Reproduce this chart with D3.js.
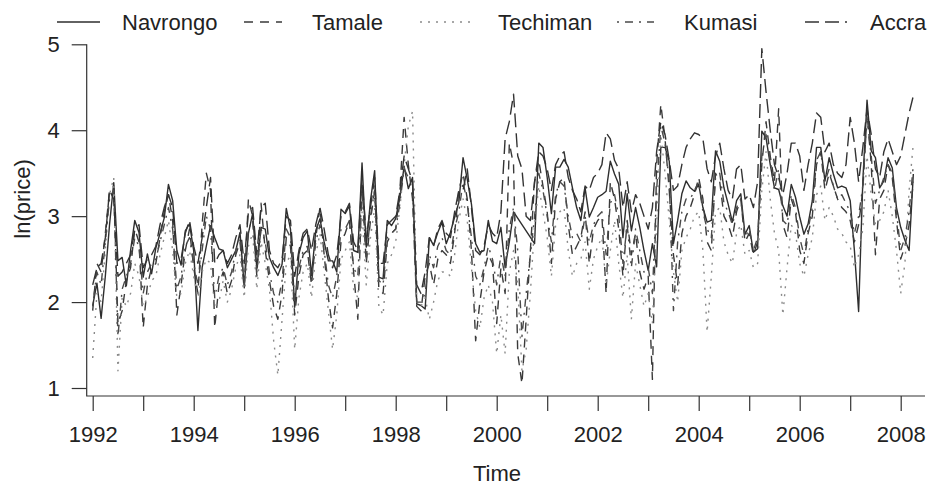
<!DOCTYPE html>
<html>
<head>
<meta charset="utf-8">
<script src="https://cdn.jsdelivr.net/npm/d3@7/dist/d3.min.js"></script>
<style>
  body { margin: 0; background: #fff; }
  svg text { font-family: "Liberation Sans", Arial, Helvetica, sans-serif; fill: #222; }
</style>
</head>
<body>
<svg width="933" height="486"></svg>
<script>
// monthly ln(price) series, Jan 1992 .. Apr 2008 (null = missing month)
var startYear = 1992;
var seriesNames = ["Navrongo", "Tamale", "Techiman", "Kumasi", "Accra"];

var navrongo = [
  1.96, 2.22, 1.81, 2.30, 2.90, 3.39, 2.48, 2.52, 2.19, 2.60, 2.95, 2.81,
  2.29, 2.56, 2.33, 2.63, 2.80, 2.98, 3.37, 3.18, 2.60, 2.43, 2.83, 2.91,
  2.60, 1.67, 2.40, 2.65, 2.89, 2.75, 2.62, 2.60, 2.40, 2.50, 2.60, 2.81,
  2.19, 2.80, 3.03, 2.39, 2.87, 2.85, 2.52, 2.40, 2.31, 2.44, 3.09, 2.85,
  1.94, 2.56, 2.75, 2.83, 2.31, 2.83, 2.97, 2.70, 2.48, 2.48, 2.35, 3.08,
  3.03, 3.12, 2.60, 2.58, 3.62, 2.64, 3.18, 3.53, 2.29, 2.27, 2.95, 2.89,
  2.97, 3.22, 3.58, 3.32, 3.45, 1.98, 1.96, 1.92, 2.75, 2.66, 2.81, 2.93,
  2.68, 2.81, 2.99, 3.16, 3.68, 3.43, 3.14, 2.68, 2.58, 2.60, 2.95, 2.71,
  2.68, 2.87, 2.40, 2.70, 3.05, null, null, null, null, 2.68, 3.85, 3.80,
  3.45, 3.03, 3.57, 3.57, 3.66, 3.57, 3.33, 3.10, 2.95, 3.33, 2.99, 3.10,
  3.22, 3.25, 3.29, 3.64, 3.49, 3.37, 2.75, 3.26, 2.83, 3.10, 2.87, 2.60,
  2.37, 2.68, 2.41, 3.80, 3.80, 3.64, 2.68, 2.95, 3.26, 3.41, 3.33, 3.29,
  3.37, 3.10, 2.93, 2.95, 3.76, 3.64, 3.33, 3.14, 2.93, 3.18, 3.26, 2.79,
  2.89, 2.58, 2.62, 3.99, 3.91, 3.60, 3.33, 3.31, 3.12, 3.00, 3.37, 3.22,
  2.99, 2.79, 2.91, 3.18, 3.80, 3.80, 3.41, 3.68, 3.49, 3.33, 3.35, 3.33,
  3.18, 2.60, 1.89, 3.41, 4.35, 3.76, 3.68, 3.33, 3.41, 3.68, 3.56, 3.10,
  2.87, 2.72, 2.60, 3.49
];

var tamale = [
  1.90, 2.45, 2.35, 2.80, 3.30, 3.35, 1.75, 1.90, 2.25, 2.40, 2.85, 2.70,
  1.70, 2.20, 2.40, 2.45, 2.75, 3.05, 3.25, 2.95, 1.85, 2.20, 2.60, 2.85,
  2.40, 2.10, 2.90, 3.50, 3.30, 1.70, 2.20, 2.35, 2.10, 2.25, 2.55, 2.70,
  2.15, 3.20, 3.00, 2.30, 3.15, 2.60, 2.25, 1.95, 1.80, 2.10, 2.75, 2.65,
  1.85, 2.30, 2.55, 2.60, 2.20, 2.75, 3.10, 2.55, 2.05, 1.70, 2.10, 2.70,
  2.80, 2.95, 2.35, 1.80, 3.40, 2.45, 2.95, 3.30, 2.15, 2.10, 2.70, 2.80,
  2.85, 3.30, 4.15, 3.60, 3.20, 1.95, 1.90, 2.30, 2.45, 2.20, 2.50, 2.60,
  2.55, 2.45, 2.80, 3.30, 3.50, 3.20, 2.60, 1.55, 2.00, 2.35, 2.55, 2.45,
  1.75, 2.40, 2.10, 3.85, 3.60, 1.40, 1.05, 1.80, 2.60, 3.40, 3.65, 3.35,
  3.05, 2.45, 3.20, 3.40, 3.45, 2.90, 2.55, 2.65, 2.75, 3.05, 2.45, 2.85,
  2.95, 3.00, 2.10, 3.40, 3.20, 2.85, 2.30, 2.95, 2.55, 2.80, 2.35, 2.15,
  2.30, 1.10, 3.60, 4.30, 3.90, 3.30, 2.55, 2.20, 2.80, 3.00, 3.10, 3.25,
  3.45, 3.20, 2.70, 2.60, 3.50, 3.40, 3.00, 2.90, 2.75, 3.05, 3.20, 2.70,
  2.80, 2.55, 2.70, 3.60, 4.10, 3.70, 3.40, 4.25, 2.90, 2.75, 3.20, 3.05,
  2.60, 2.45, 2.80, 3.00, 3.60, 3.75, 3.30, 3.50, 3.35, 3.20, 3.10, 3.05,
  2.95, 2.70, 2.90, 3.30, 4.20, 3.60, 2.55, 3.20, 3.30, 3.60, 3.45, 2.95,
  2.50, 2.65, 2.90, 3.40
];

var techiman = [
  1.35, 2.10, 2.00, 2.60, 3.25, 3.45, 1.20, 2.05, 1.95, 2.10, 2.45, 2.30,
  1.95, 2.05, 2.25, 2.30, 2.55, 2.75, 2.95, 2.60, 2.05, 2.10, 2.45, 2.60,
  2.30, 2.05, 2.35, 2.50, 2.45, 1.95, 2.00, 2.25, 2.00, 2.15, 2.40, 2.55,
  2.05, 2.65, 2.80, 2.15, 2.70, 2.45, 2.15, 1.55, 1.15, 1.80, 2.45, 2.55,
  1.45, 2.05, 2.35, 2.45, 2.05, 2.55, 2.80, 2.35, 1.90, 1.45, 1.85, 2.50,
  2.60, 2.70, 2.15, 2.05, 3.05, 2.20, 2.75, 3.10, 1.95, 1.85, 2.45, 2.55,
  2.70, 3.10, 3.60, 4.05, 4.22, 2.00, 1.95, 2.05, 1.80, 2.00, 2.25, 2.35,
  2.35, 2.30, 2.55, 2.95, 3.20, 2.95, 2.40, 1.90, 1.70, 2.05, 2.20, 2.00,
  1.40, 1.85, 1.40, 2.35, 2.60, 2.20, 1.20, 1.45, 2.10, 2.90, 3.35, 3.05,
  2.75, 2.30, 2.90, 3.05, 3.10, 2.60, 2.30, 2.45, 2.50, 2.70, 2.15, 2.50,
  2.65, 2.75, 2.20, 2.60, 2.95, 2.45, 2.05, 2.55, 1.80, 2.45, 2.20, 1.95,
  2.10, 1.75, 2.90, 3.95, 3.50, 2.95, 2.35, 2.00, 2.60, 2.75, 2.85, 3.00,
  3.05, 2.60, 1.65, 2.30, 3.05, 3.10, 2.70, 2.55, 2.45, 2.80, 2.90, 2.55,
  2.60, 2.40, 2.45, 3.30, 3.75, 3.20, 2.80, 2.60, 1.85, 2.40, 2.90, 2.80,
  2.45, 2.30, 2.55, 2.75, 3.25, 3.35, 2.95, 3.10, 3.00, 2.85, 2.80, 2.70,
  2.65, 2.40, 2.55, 2.85, 3.70, 3.25, 2.90, 2.95, 3.05, 3.30, 3.00, 2.60,
  2.10, 2.45, 3.30, 3.85
];

var kumasi = [
  1.95, 2.35, 2.20, 2.70, 3.20, 3.30, 1.60, 2.15, 2.30, 2.45, 2.75, 2.65,
  2.10, 2.35, 2.45, 2.50, 2.70, 2.90, 3.10, 2.85, 2.15, 2.30, 2.65, 2.75,
  2.45, 2.20, 2.60, 3.00, 2.85, 2.05, 2.30, 2.40, 2.20, 2.35, 2.60, 2.75,
  2.20, 2.85, 2.95, 2.35, 2.85, 2.70, 2.35, 2.10, 2.00, 2.25, 2.85, 2.75,
  2.00, 2.40, 2.60, 2.65, 2.25, 2.70, 2.90, 2.60, 2.20, 2.05, 2.30, 2.85,
  2.85, 2.95, 2.40, 2.30, 3.30, 2.50, 3.00, 3.30, 2.25, 2.20, 2.75, 2.80,
  2.85, 3.15, 3.55, 3.45, 3.40, 2.00, 2.00, 2.10, 2.55, 2.40, 2.65, 2.75,
  2.60, 2.55, 2.85, 3.05, 3.40, 3.15, 2.75, 2.30, 2.20, 2.40, 2.65, 2.50,
  2.20, 2.55, 2.30, 2.85, 3.10, 2.60, 1.60, 2.10, 2.55, 3.00, 3.50, 3.30,
  3.00, 2.70, 3.25, 3.40, 3.35, 3.00, 2.75, 2.80, 2.70, 3.00, 2.70, 2.90,
  3.00, 3.05, 2.55, 3.15, 3.25, 3.00, 2.45, 2.90, 2.40, 2.85, 2.60, 2.35,
  2.40, 2.10, 3.30, 4.05, 3.85, 3.40, 1.90, 2.70, 3.05, 3.20, 3.20, 3.30,
  3.40, 3.05, 2.85, 2.75, 3.45, 3.50, 3.15, 3.05, 2.90, 3.10, 3.20, 2.75,
  2.85, 2.60, 2.75, 3.70, 3.95, 3.65, 3.30, 3.55, 2.95, 2.90, 3.25, 3.10,
  2.75, 2.55, 2.85, 3.10, 3.65, 3.75, 3.40, 3.55, 3.35, 3.20, 3.25, 3.15,
  3.05, 2.80, 3.00, 3.35, 4.15, 3.70, 3.15, 3.30, 3.45, 3.60, 3.50, 3.05,
  2.60, 2.75, 3.05, 3.60
];

var accra = [
  2.20, 2.40, 2.45, 2.75, 3.30, 3.20, 2.30, 2.35, 2.45, 2.55, 2.85, 2.90,
  2.40, 2.50, 2.55, 2.65, 2.90, 3.10, 3.25, 3.10, 2.45, 2.50, 2.80, 2.95,
  2.65, 2.45, 2.75, 3.10, 3.45, 2.45, 2.55, 2.60, 2.45, 2.55, 2.75, 2.90,
  2.45, 3.05, 3.10, 2.55, 3.10, 3.15, 2.60, 2.45, 2.40, 2.50, 3.00, 2.95,
  2.30, 2.60, 2.80, 2.85, 2.60, 2.90, 3.10, 2.85, 2.55, 2.40, 2.55, 3.00,
  3.05, 3.15, 2.70, 2.60, 3.45, 2.75, 3.10, 3.45, 2.45, 2.45, 2.90, 2.95,
  3.00, 3.30, 3.70, 3.55, 3.40, 2.20, 2.10, 2.35, 2.75, 2.65, 2.85, 2.95,
  2.80, 2.75, 3.05, 3.30, 3.30, 3.55, 3.10, 2.60, 2.55, 2.65, 2.90, 2.80,
  2.75, 3.05, 3.90, 4.10, 4.42, 3.70, 3.55, 3.00, 2.95, 3.40, 3.75, 3.70,
  3.55, 3.30, 3.60, 3.70, 3.75, 3.45, 3.30, 3.20, 3.05, 3.35, 3.30, 3.45,
  3.50, 3.60, 3.97, 3.90, 3.65, 3.55, 3.10, 3.40, 3.05, 3.25, 3.15, 3.00,
  2.85, 3.10, 3.75, 4.10, 3.95, 3.65, 3.30, 3.35, 3.60, 3.80, 3.90, 3.97,
  3.95, 3.90, 3.55, 3.40, 3.70, 3.85, 3.55, 3.30, 3.20, 3.55, 3.60, 3.20,
  3.25, 3.10, 3.40, 4.95, 4.45, 4.00, 3.60, 3.45, 3.25, 3.50, 3.85, 3.85,
  3.70, 3.30, 3.60, 3.85, 4.20, 4.15, 3.75, 3.85, 3.60, 3.50, 3.45, 3.60,
  4.15, 3.85, 3.40, 3.80, 4.25, 3.95, 3.55, 3.45, 3.75, 3.90, 3.75, 3.60,
  3.70, 3.95, 4.20, 4.40
];

var yTicks = [1, 2, 3, 4, 5];
var xTicks = d3.range(1992, 2009);

// styles for each series, same order as seriesNames
var dashes = [null, "9,7", "2,6", "2,6,8,6", "14,6"];
var colors = ["#2e2e2e", "#3a3a3a", "#8a8a8a", "#4a4a4a", "#333333"];
var legendX = [57, 244, 420, 617, 805];
var legendLen = [43, 38, 50, 37, 42];

var svg = d3.select("svg");

var x = d3.scaleLinear().domain([1992, 2008]).range([92.7, 900.7]);
var y = d3.scaleLinear().domain([1, 5]).range([388, 44.3]);

var allSeries = [navrongo, tamale, techiman, kumasi, accra].map(function (vals, i) {
    return {
        name: seriesNames[i],
        points: vals.map(function (v, m) { return { t: startYear + m / 12, v: v }; })
                    .filter(function (d) { return d.v != null; })
    };
});

// L-shaped box
svg.append("path")
    .attr("d", "M86.7,44.3V396H925")
    .attr("fill", "none")
    .attr("stroke", "#333")
    .attr("stroke-width", 1.2);

// y axis
var yAxis = svg.append("g")
    .attr("transform", "translate(86.7,0)")
    .call(d3.axisLeft(y).tickValues(yTicks).tickSize(15).tickPadding(12).tickFormat(d3.format("d")));
yAxis.select(".domain").remove();
yAxis.selectAll("line").attr("stroke", "#333").attr("stroke-width", 1.2);
yAxis.selectAll("text").attr("font-size", 22).attr("fill", "#222");

// x axis
var xAxis = svg.append("g")
    .attr("transform", "translate(0,396)")
    .call(d3.axisBottom(x).tickValues(xTicks).tickSize(15).tickPadding(15)
        .tickFormat(function (d) { return d % 2 === 0 ? d : ""; }));
xAxis.select(".domain").remove();
xAxis.selectAll("line").attr("stroke", "#333").attr("stroke-width", 1.2);
xAxis.selectAll("text").attr("font-size", 22).attr("fill", "#222");

// axis titles
svg.append("text")
    .attr("x", 497).attr("y", 481)
    .attr("text-anchor", "middle")
    .attr("font-size", 22)
    .text("Time");

svg.append("text")
    .attr("transform", "translate(30,199) rotate(-90)")
    .attr("text-anchor", "middle")
    .attr("font-size", 22)
    .text("ln(price)");

// series lines
var line = d3.line()
    .x(function (d) { return x(d.t); })
    .y(function (d) { return y(d.v); });

svg.append("g").selectAll("path")
    .data(allSeries)
    .enter().append("path")
    .attr("d", function (d) { return line(d.points); })
    .attr("fill", "none")
    .attr("stroke", function (d, i) { return colors[i]; })
    .attr("stroke-width", 1.4)
    .attr("stroke-dasharray", function (d, i) { return dashes[i]; })
    .attr("stroke-linejoin", "round");

// legend across the top
var legend = svg.append("g").selectAll("g")
    .data(seriesNames)
    .enter().append("g")
    .attr("transform", function (d, i) { return "translate(" + legendX[i] + ",22)"; });

legend.append("line")
    .attr("x1", 0)
    .attr("x2", function (d, i) { return legendLen[i]; })
    .attr("stroke", function (d, i) { return colors[i]; })
    .attr("stroke-width", 1.4)
    .attr("stroke-dasharray", function (d, i) { return dashes[i]; });

legend.append("text")
    .attr("x", function (d, i) { return legendLen[i] + [22, 30, 28, 30, 23][i]; })
    .attr("y", 8)
    .attr("font-size", 22)
    .text(function (d) { return d; });
</script>
</body>
</html>
